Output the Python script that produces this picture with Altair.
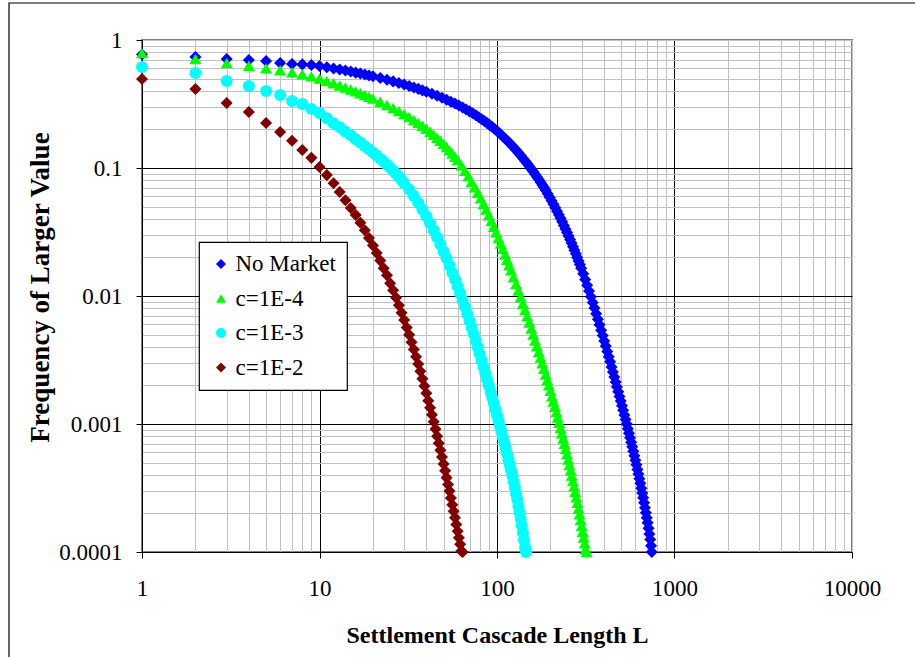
import altair as alt
import pandas as pd

# ---- data: complementary cumulative frequency of settlement cascade lengths ----
SERIES = ["No Market", "c=1E-4", "c=1E-3", "c=1E-2"]
COLORS = ["#0000FF", "#00FF00", "#00FFFF", "#800000"]
SHAPES = ["diamond", "triangle-up", "circle", "diamond"]

no_market_L = (list(range(1, 21)) + list(range(22, 41, 2)) + list(range(43, 101, 3))
               + list(range(104, 189, 4)) + list(range(193, 299, 5))
               + list(range(306, 739, 8)) + [745])
no_market_F = [
    0.77, 0.737, 0.711, 0.698, 0.686, 0.661, 0.649, 0.645, 0.638, 0.626,
    0.613, 0.600, 0.589, 0.577, 0.567, 0.556, 0.547, 0.538, 0.529, 0.520,
    0.504, 0.489, 0.475, 0.462, 0.449, 0.437, 0.426, 0.415, 0.404, 0.394,
    0.380, 0.3665, 0.3538, 0.3417, 0.3299, 0.3185, 0.3074, 0.2969, 0.2868, 0.2770,
    0.2675, 0.2582, 0.2493, 0.2406, 0.2323, 0.2242, 0.2163, 0.2087, 0.2014, 0.1943,
    0.1851, 0.1763, 0.1680, 0.1600, 0.1523, 0.1450, 0.1381, 0.1315, 0.1252, 0.1192,
    0.1136, 0.1082, 0.1031, 0.0983, 0.0937, 0.0893, 0.0851, 0.0812, 0.0774, 0.0737,
    0.0703, 0.0670,
    0.0630, 0.0591, 0.0555, 0.0521, 0.0489, 0.0459, 0.0431, 0.0405, 0.0380, 0.0356,
    0.0334, 0.0314, 0.0294, 0.0276, 0.0259, 0.0243, 0.0228, 0.0214, 0.0200, 0.0188,
    0.0176, 0.0165,
    0.0149, 0.01345, 0.01214, 0.01095, 0.00988, 0.00891, 0.00805, 0.00728, 0.00659, 0.00597,
    0.00541, 0.00491, 0.00446, 0.00406, 0.00369, 0.00336, 0.00306, 0.00279, 0.00255, 0.00233,
    0.00213, 0.00195, 0.00179, 0.00164, 0.00151, 0.00139, 0.00128, 0.001175, 0.001083, 0.000998,
    0.000920, 0.000848, 0.000782, 0.000721, 0.000664, 0.000612, 0.000565, 0.000521, 0.000480, 0.000442,
    0.000407, 0.000374, 0.000344, 0.000315, 0.000289, 0.000265, 0.000243, 0.000222, 0.000203, 0.000185,
    0.000169, 0.000153, 0.000138, 0.000125, 0.000112,
    0.0001,
]

c4_L = (list(range(1, 21)) + list(range(22, 61, 2)) + list(range(63, 121, 3))
        + list(range(124, 317, 4)) + [320])
c4_F = [
    0.79, 0.711, 0.66, 0.63, 0.60, 0.58, 0.56, 0.54, 0.52, 0.50,
    0.4787, 0.4594, 0.4418, 0.4256, 0.4107, 0.3968, 0.3839, 0.3717, 0.3602, 0.3495,
    0.3294, 0.3110, 0.2940, 0.2783, 0.2637, 0.2501, 0.2372, 0.2250, 0.2135, 0.2025,
    0.1920, 0.1820, 0.1724, 0.1632, 0.1543, 0.1458, 0.1377, 0.1299, 0.1225, 0.1154,
    0.1049, 0.0952, 0.0863, 0.0782, 0.0708, 0.0640, 0.0579, 0.0523, 0.0473, 0.0427,
    0.0386, 0.0348, 0.0315, 0.0284, 0.0257, 0.0233, 0.0211, 0.0192, 0.0174, 0.01586,
    0.01403, 0.01242, 0.01101, 0.00978,
    0.00870, 0.00776, 0.00693, 0.00620, 0.00556, 0.00499, 0.00449, 0.00405, 0.00365, 0.00330,
    0.00298, 0.00270, 0.00244, 0.00221, 0.00201, 0.00182, 0.00165, 0.00150, 0.001362, 0.001238,
    0.001125, 0.001023, 0.000931, 0.000847, 0.000770, 0.000701, 0.000637, 0.000580, 0.000527, 0.000479,
    0.000435, 0.000396, 0.000359, 0.000326, 0.000295, 0.000267, 0.000242, 0.000218, 0.000197, 0.000178,
    0.000160, 0.000144, 0.000130, 0.000117, 0.000105,
    0.0001,
]

c3_L = list(range(1, 31)) + list(range(32, 147, 2))
c3_F = [
    0.615, 0.553, 0.478, 0.437, 0.40, 0.372, 0.334, 0.316, 0.289, 0.269,
    0.245, 0.224, 0.208, 0.192, 0.180, 0.168, 0.158, 0.148, 0.140, 0.132,
    0.125, 0.118, 0.112, 0.106, 0.1006, 0.0953, 0.0902, 0.0853, 0.0805, 0.0760,
    0.0678, 0.0603, 0.0535, 0.0473, 0.0419, 0.0370, 0.0326, 0.0287, 0.0253, 0.0223,
    0.0197, 0.0173, 0.0152, 0.0135, 0.0119, 0.0105, 0.00927, 0.00819, 0.00724, 0.00641,
    0.00568, 0.00504, 0.00447, 0.00396, 0.00352, 0.00313, 0.00279, 0.00249, 0.00223, 0.00200,
    0.00179, 0.00161, 0.00145, 0.00130, 0.00117, 0.00106, 0.000957, 0.000865, 0.000783, 0.000710,
    0.000643, 0.000583, 0.000528, 0.000480, 0.000436, 0.000394, 0.000356, 0.000320, 0.000287, 0.000257,
    0.000229, 0.000204, 0.000181, 0.000160, 0.000141, 0.000124, 0.000109, 0.0001,
]

c2_L = list(range(1, 65))
c2_F = [
    0.496, 0.414, 0.322, 0.274, 0.225, 0.191, 0.163, 0.138, 0.120, 0.102,
    0.088, 0.076, 0.065, 0.056, 0.0487, 0.043, 0.0374, 0.0326, 0.0284, 0.0248,
    0.0217, 0.0189, 0.0165, 0.0145, 0.0126, 0.0111, 0.00968, 0.00847, 0.00741, 0.00649,
    0.00568, 0.00497, 0.00436, 0.00382, 0.00335, 0.00294, 0.00258, 0.00226, 0.00198, 0.00174,
    0.00152, 0.00134, 0.00118, 0.00104, 0.000912, 0.000804, 0.000708, 0.000625, 0.000552, 0.000488,
    0.000431, 0.000381, 0.000337, 0.000299, 0.000264, 0.000234, 0.000208, 0.000185, 0.000164, 0.000145,
    0.000129, 0.000115, 0.000102, 0.0001,
]

frames = []
for name, Ls, Fs in zip(SERIES, [no_market_L, c4_L, c3_L, c2_L],
                        [no_market_F, c4_F, c3_F, c2_F]):
    assert len(Ls) == len(Fs), name
    frames.append(pd.DataFrame({"L": Ls, "F": Fs, "series": name}))
df = pd.concat(frames, ignore_index=True)

# ---- axes: decade labels, minor grid at 2..9 of each decade ----
x_ticks = [k * 10 ** e for e in range(0, 4) for k in range(1, 10)] + [10000]
y_ticks = [k * 10.0 ** e for e in range(-4, 0) for k in range(1, 10)] + [1.0]

MAJOR = "abs(log(datum.value)/LN10 - round(log(datum.value)/LN10)) < 1e-6"
X_DARK = "datum.value == 10 || datum.value == 100 || datum.value == 1000"
Y_DARK = "datum.value == 0.1 || datum.value == 0.01 || datum.value == 0.001"

SERIF = "Liberation Serif"

x_axis = alt.Axis(
    values=x_ticks, format="d", labelExpr=f"({MAJOR}) ? datum.label : ''",
    labelOverlap=False, labelFlush=False,
    labelFont=SERIF, labelFontSize=23, labelColor="black", labelPadding=19,
    tickSize=6, tickColor="black", tickWidth=1,
    tickOpacity={"condition": {"test": MAJOR, "value": 1}, "value": 0},
    domainColor="black", domainWidth=1,
    grid=True, gridWidth=1, gridOpacity=1,
    gridColor={"condition": {"test": X_DARK, "value": "#000000"}, "value": "#c0c0c0"},
    title="Settlement Cascade Length L", titleFont=SERIF, titleFontSize=24,
    titleFontWeight="bold", titleColor="black",
    titleX=355, titleY=90, titleAlign="center", titleBaseline="alphabetic",
)

y_axis = alt.Axis(
    values=y_ticks, format=".4~f", labelExpr=f"({MAJOR}) ? datum.label : ''",
    labelOverlap=False, labelFlush=False,
    labelFont=SERIF, labelFontSize=23, labelColor="black", labelPadding=14,
    tickSize=6, tickColor="black", tickWidth=1,
    tickOpacity={"condition": {"test": MAJOR, "value": 1}, "value": 0},
    domainColor="black", domainWidth=1,
    grid=True, gridWidth=1, gridOpacity=1,
    gridColor={"condition": {"test": Y_DARK, "value": "#000000"}, "value": "#c0c0c0"},
    title="Frequency of Larger Value", titleFont=SERIF, titleFontSize=27,
    titleFontWeight="bold", titleColor="black",
    titleX=-94, titleY=247, titleAngle=270, titleAlign="center",
    titleBaseline="alphabetic",
)

legend = alt.Legend(
    title=None, orient="none", legendX=57, legendY=202,
    padding=10.5, rowPadding=10.5, labelOffset=3,
    labelFont=SERIF, labelFontSize=23, labelColor="black",
    symbolSize=100, symbolStrokeWidth=0, symbolOpacity=1,
    fillColor="white", strokeColor="black",
)

points = alt.Chart(df).mark_point(filled=True, opacity=1, size=145, strokeWidth=0).encode(
    x=alt.X("L:Q", scale=alt.Scale(type="log", domain=[1, 10000], nice=False), axis=x_axis),
    y=alt.Y("F:Q", scale=alt.Scale(type="log", domain=[0.0001, 1], nice=False), axis=y_axis),
    color=alt.Color("series:N", scale=alt.Scale(domain=SERIES, range=COLORS), legend=legend),
    shape=alt.Shape("series:N", scale=alt.Scale(domain=SERIES, range=SHAPES), legend=legend),
)

# outer frame around the whole figure
frame = alt.Chart(pd.DataFrame({"v": [0]})).mark_rect(
    fill="transparent", stroke="black", strokeWidth=1.2
).encode(
    x=alt.value(-133), x2=alt.value(790), y=alt.value(-37), y2=alt.value(630)
)

chart = alt.layer(frame, points).properties(
    width=710, height=512,
    autosize=alt.AutoSizeParams(type="none"),
    padding={"left": 142, "top": 40, "right": 63, "bottom": 105},
    background="white",
).configure_view(
    stroke="#808080", strokeWidth=2
).configure_legend(
    strokeWidth=1.2
)

chart.save("out.html", embed_options={"renderer": "svg", "actions": False})
